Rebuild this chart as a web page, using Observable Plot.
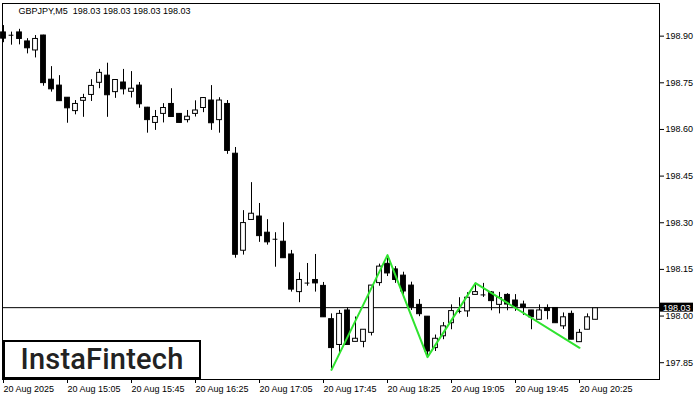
<!DOCTYPE html>
<html>
<head>
<meta charset="utf-8">
<script src="https://cdn.jsdelivr.net/npm/d3@7"></script>
<script src="https://cdn.jsdelivr.net/npm/@observablehq/plot@0.6"></script>
<style>
  html, body { margin: 0; padding: 0; background: #fff; }
  #wrap { position: relative; width: 700px; height: 400px; overflow: hidden; }
  #logo {
    position: absolute; left: 3px; top: 340px; width: 194px; height: 35px;
    border: 2px solid #000; background: #fff;
    font-family: Roboto, "Liberation Sans", sans-serif; font-size: 29px; font-weight: 500;
    color: #222; line-height: 35px; text-align: center; letter-spacing: 0.2px;
  }
</style>
</head>
<body>
<div id="wrap"><div id="logo">InstaFintech</div></div>
<script>
// Bar index 0 = 20 Aug 14:25, 5-minute bars
const open  = [198.912,198.905,198.912,198.883,198.854,198.902,198.760,198.741,198.702,198.659,
               198.692,198.711,198.750,198.773,198.720,198.751,198.721,198.741,198.670,198.621,
               198.650,198.682,198.650,198.630,198.650,198.669,198.693,198.630,198.682,198.522,
               198.210,198.309,198.320,198.268,198.249,198.239,198.198,198.077,198.108,198.116,
               198.097,197.990,197.907,198.018,197.917,197.917,197.946,198.106,198.168,198.150,
               198.130,198.098,198.036,197.998,197.897,197.935,197.977,198.013,198.015,198.068,
               198.070,198.076,198.036,198.068,198.050,198.037,198.018,197.988,198.026,198.026,
               197.967,198.007,197.916,197.956,197.988];
const high  = [198.934,198.913,198.922,198.892,198.902,198.903,198.802,198.773,198.702,198.693,
               198.713,198.760,198.793,198.813,198.760,198.793,198.786,198.751,198.671,198.661,
               198.683,198.731,198.651,198.661,198.692,198.702,198.741,198.702,198.693,198.542,
               198.339,198.429,198.362,198.310,198.268,198.300,198.211,198.139,198.169,198.198,
               198.108,198.007,198.018,198.026,197.997,197.956,198.098,198.167,198.185,198.159,
               198.141,198.109,198.053,197.998,197.939,197.979,198.036,198.059,198.075,198.105,
               198.105,198.079,198.076,198.072,198.069,198.048,198.018,198.036,198.036,198.026,
               198.010,198.016,197.957,198.007,198.026];
const low   = [198.879,198.871,198.872,198.843,198.830,198.739,198.720,198.691,198.620,198.647,
               198.639,198.690,198.731,198.639,198.700,198.711,198.701,198.668,198.588,198.597,
               198.621,198.640,198.621,198.621,198.640,198.654,198.597,198.588,198.520,198.186,
               198.196,198.309,198.237,198.228,198.157,198.186,198.077,198.043,198.096,198.077,
               197.996,197.831,197.883,197.907,197.917,197.898,197.936,198.096,198.127,198.105,
               198.059,198.018,197.998,197.870,197.886,197.924,197.956,198.007,197.996,198.068,
               198.060,198.017,198.007,198.017,198.015,198.002,197.956,197.988,197.988,197.977,
               197.957,197.924,197.916,197.956,197.988];
const close = [198.892,198.903,198.891,198.861,198.891,198.749,198.729,198.691,198.668,198.682,
               198.701,198.740,198.782,198.710,198.759,198.729,198.731,198.681,198.630,198.640,
               198.669,198.640,198.621,198.641,198.661,198.701,198.620,198.693,198.531,198.197,
               198.299,198.329,198.257,198.237,198.247,198.186,198.085,198.116,198.106,198.105,
               197.996,197.897,198.007,197.907,197.927,197.956,198.098,198.159,198.137,198.116,
               198.079,198.028,198.006,197.886,197.927,197.967,198.016,198.015,198.059,198.077,
               198.068,198.048,198.058,198.037,198.030,198.027,197.996,198.018,198.016,197.977,
               197.996,197.924,197.946,197.996,198.025];

const lastPrice = 198.027;
const lastPriceLabel = "198.03";
const titleText = "GBPJPY,M5  198.03 198.03 198.03 198.03";

const patternBars   = [41, 48, 53, 59, 72];
const patternPrices = [197.827, 198.196, 197.868, 198.106, 197.898];

const xTickBars   = [0, 8, 16, 24, 32, 40, 48, 56, 64, 72];
const xTickLabels = ["20 Aug 2025","20 Aug 15:05","20 Aug 15:45","20 Aug 16:25","20 Aug 17:05",
                     "20 Aug 17:45","20 Aug 18:25","20 Aug 19:05","20 Aug 19:45","20 Aug 20:25"];
const yTicks = [197.85, 198.00, 198.15, 198.30, 198.45, 198.60, 198.75, 198.90];

const data = open.map((o, i) => ({i, o, h: high[i], l: low[i], c: close[i]}));
const bodies = data.filter(d => Math.abs(d.c - d.o) >= 0.003);
const dojis = data.filter(d => Math.abs(d.c - d.o) < 0.003);
const pattern = patternBars.map((b, k) => ({i: b, p: patternPrices[k]}));
const hw = 0.3;

const chart = Plot.plot({
  width: 700,
  height: 400,
  marginLeft: 2,
  marginRight: 41,
  marginTop: 3,
  marginBottom: 21,
  style: {background: "white", color: "black", fontFamily: "'Liberation Sans', Arial, sans-serif", fontSize: "9px"},
  x: {domain: [-0.125, 82], axis: null, label: null},
  y: {domain: [197.796, 199.005], axis: null, label: null},
  marks: [
    Plot.ruleY([lastPrice], {stroke: "black", strokeWidth: 1}),
    Plot.ruleX(data, {x: "i", y1: "l", y2: "h", stroke: "black", strokeWidth: 1}),
    Plot.rect(bodies, {x1: d => d.i - hw, x2: d => d.i + hw, y1: "o", y2: "c",
      fill: d => d.c > d.o ? "white" : "black", stroke: "black", strokeWidth: 1}),
    Plot.ruleY(dojis, {y: "c", x1: d => d.i - hw, x2: d => d.i + hw, stroke: "black", strokeWidth: 1}),
    Plot.line(pattern, {x: "i", y: "p", stroke: "#2fe32f", strokeWidth: 2}),
    Plot.frame({stroke: "black"}),
    Plot.axisY({anchor: "right", label: null, ticks: yTicks, tickFormat: d => d.toFixed(2), tickSize: 4, tickPadding: 2, fontSize: 9}),
    Plot.axisX({anchor: "bottom", label: null, ticks: xTickBars, tickFormat: d => xTickLabels[xTickBars.indexOf(d)],
      tickSize: 4, tickPadding: 2, textAnchor: "start", dx: 0, fontSize: 9}),
    Plot.text([titleText], {frameAnchor: "top-left", text: d => d, dx: 16, dy: 4,
      textAnchor: "start", lineAnchor: "top", fill: "black", fontSize: 9})
  ]
});

document.getElementById("wrap").prepend(chart);

// last-price box on the right axis
const ys = chart.scale("y");
const yy = ys.apply(lastPrice);
const svg = d3.select(chart);
svg.append("rect").attr("x", 660).attr("y", yy - 4.5).attr("width", 33).attr("height", 9).attr("fill", "black");
svg.append("text").attr("x", 663).attr("y", yy + 3.4).attr("fill", "white").attr("text-anchor", "start")
  .attr("font-size", 9).attr("font-family", "'Liberation Sans', Arial, sans-serif").text(lastPriceLabel);
</script>
</body>
</html>
